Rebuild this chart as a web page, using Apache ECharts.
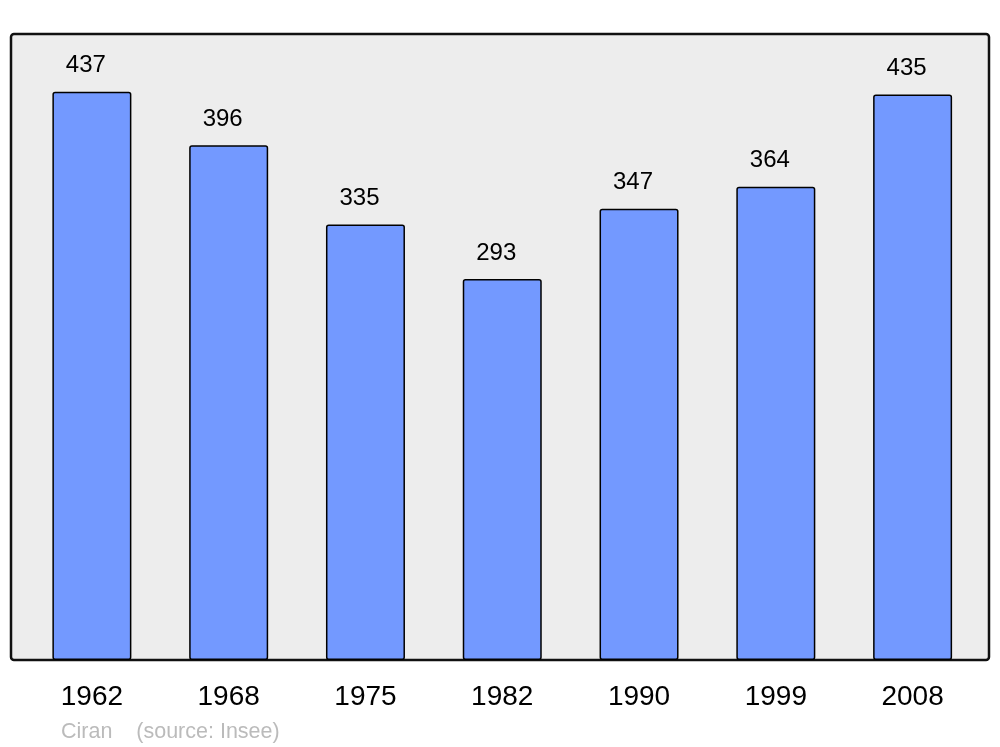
<!DOCTYPE html>
<html>
<head>
<meta charset="utf-8">
<script src="https://cdn.jsdelivr.net/npm/echarts@6/dist/echarts.min.js"></script>
<style>
  html, body { margin: 0; padding: 0; background: #fff; }
  #chart { width: 1000px; height: 747px; }
</style>
</head>
<body>
<div id="chart"></div>
<script>
const years = ['1962', '1968', '1975', '1982', '1990', '1999', '2008']
const population = [437, 396, 335, 293, 347, 364, 435]
const sourceText = 'Ciran    (source: Insee)'

const chart = echarts.init(document.getElementById('chart'), null, { renderer: 'canvas' })

chart.setOption({
  animation: false,
  textStyle: { fontFamily: 'Liberation Sans, Arial, sans-serif' },
  graphic: [
    {
      type: 'rect',
      z: -10,
      shape: { x: 11, y: 34, width: 978, height: 626, r: 3 },
      style: { fill: '#ededed', stroke: '#111', lineWidth: 2.5 }
    },
    {
      type: 'text',
      left: 61,
      top: 721,
      style: {
        text: sourceText,
        fill: '#bbbbbb',
        font: '21.5px Liberation Sans, Arial, sans-serif'
      }
    }
  ],
  grid: { left: 23.5, right: 19, top: 34, bottom: 87 },
  xAxis: {
    type: 'category',
    data: years,
    axisLine: { show: false },
    axisTick: { show: false },
    axisLabel: { color: '#000', fontSize: 28, margin: 23 }
  },
  yAxis: {
    type: 'value',
    min: 0,
    max: 481.5,
    show: false,
    splitLine: { show: false }
  },
  series: [
    {
      type: 'bar',
      data: population,
      barWidth: 79,
      itemStyle: {
        color: '#7399ff',
        borderColor: '#000',
        borderWidth: 1.5,
        borderRadius: 2
      },
      label: {
        show: true,
        position: 'top',
        distance: 14,
        offset: [-6, 0],
        color: '#000',
        fontSize: 24
      }
    }
  ]
})
</script>
</body>
</html>
